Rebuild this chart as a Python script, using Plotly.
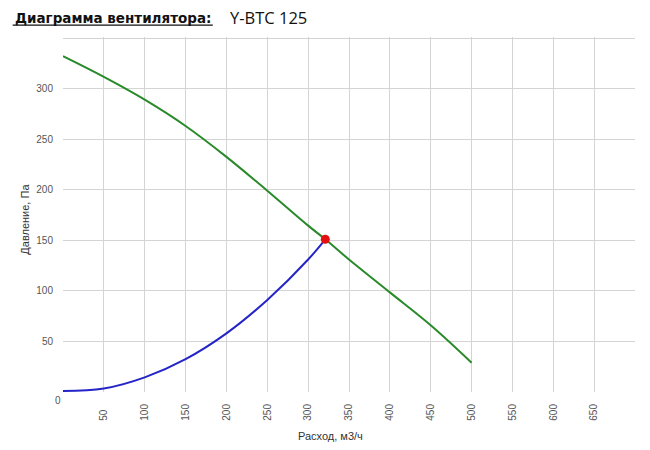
import plotly.graph_objects as go

# Data
fan_flow = [0, 50, 100, 150, 200, 250, 300, 321, 350, 400, 450, 500]
fan_pressure = [332, 311.5, 289, 263, 232.5, 199, 164.5, 151, 131, 98.5, 66, 29]

sys_flow = [0, 50, 100, 150, 200, 250, 300, 321]
sys_pressure = [1, 3.5, 14.5, 32.5, 58, 91, 131, 151]

work_flow = [321]
work_pressure = [151]

x_ticks = [0, 50, 100, 150, 200, 250, 300, 350, 400, 450, 500, 550, 600, 650]
x_tick_text = ["", "50\u2007", "100", "150", "200", "250", "300", "350", "400",
               "450", "500", "550", "600", "650"]
y_ticks = [50, 100, 150, 200, 250, 300, 350]
y_tick_text = ["50", "100", "150", "200", "250", "300", ""]

title_bold = "Диаграмма вентилятора:"
title_model = "Y-BTC 125"
x_title = "Расход, м3/ч"
y_title = "Давление, Па"

W, H = 650, 450
L, R, T, B = 63.3, 635.0, 36.5, 392.5


def px(x):
    return (x - L) / (R - L)


def py(y):
    return (B - y) / (B - T)


fig = go.Figure()
fig.add_trace(go.Scatter(x=fan_flow, y=fan_pressure, mode="lines",
                         line=dict(color="#2a8a2a", width=2, shape="spline", smoothing=1.0),
                         hoverinfo="skip", showlegend=False))
fig.add_trace(go.Scatter(x=sys_flow, y=sys_pressure, mode="lines",
                         line=dict(color="#2424c8", width=2, shape="spline", smoothing=1.0),
                         hoverinfo="skip", showlegend=False))
fig.add_trace(go.Scatter(x=work_flow, y=work_pressure, mode="markers",
                         marker=dict(color="#e41010", size=9),
                         hoverinfo="skip", showlegend=False))

tick_font = dict(family="Liberation Sans, Arial", size=10, color="#555555")

fig.update_layout(
    width=W, height=H,
    margin=dict(l=L, r=W - R, t=T, b=H - B, pad=0),
    paper_bgcolor="white", plot_bgcolor="white",
    xaxis=dict(range=[0, 700], tickvals=x_ticks, ticktext=x_tick_text,
               tickangle=-90, tickfont=tick_font, showgrid=True,
               gridcolor="#d4d4d4", gridwidth=1, zeroline=False,
               showline=False, ticks="", ticklabelstandoff=9),
    yaxis=dict(range=[0, 351], tickvals=y_ticks, ticktext=y_tick_text,
               tickfont=tick_font, showgrid=True, gridcolor="#d4d4d4",
               gridwidth=1, zeroline=False, showline=False, ticks="",
               ticklabelstandoff=9),
    font=dict(family="Liberation Sans, Arial"),
)

annotations = [
    dict(text="<b>" + title_bold + "</b>", x=px(13), y=py(17), xref="paper", yref="paper",
         xanchor="left", yanchor="middle", showarrow=False,
         font=dict(family="DejaVu Sans", size=13.5, color="#111111", style="normal")),
    dict(text=title_model, x=px(228), y=py(17), xref="paper", yref="paper",
         xanchor="left", yanchor="middle", showarrow=False,
         font=dict(family="Open Sans", size=16.5, color="#111111", weight=400)),
    dict(text=x_title, x=px(331), y=py(437), xref="paper", yref="paper",
         xanchor="center", yanchor="middle", showarrow=False,
         font=dict(family="Liberation Sans, Arial", size=11, color="#333333")),
    dict(text=y_title, x=px(25), y=py(219), xref="paper", yref="paper",
         xanchor="center", yanchor="middle", showarrow=False, textangle=-90,
         font=dict(family="Liberation Sans, Arial", size=11, color="#333333")),
    dict(text="0", x=px(58), y=py(401), xref="paper", yref="paper",
         xanchor="center", yanchor="middle", showarrow=False, font=tick_font),
]
fig.update_layout(annotations=annotations)

fig.add_shape(type="line", xref="paper", yref="paper",
              x0=px(13), x1=px(213), y0=py(24.5), y1=py(24.5),
              line=dict(color="#111111", width=1.2))

fig.write_html("out.html", config={"displayModeBar": False},
               post_script="document.body.style.margin='0';document.body.style.padding='0';")
